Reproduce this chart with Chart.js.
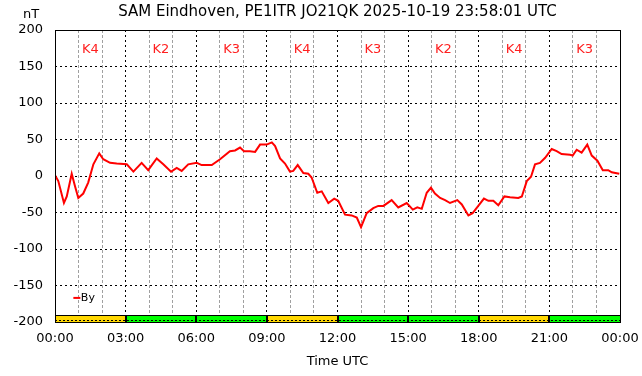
<!DOCTYPE html>
<html>
<head>
<meta charset="utf-8">
<script src="https://cdn.jsdelivr.net/npm/chart.js@4/dist/chart.umd.min.js"></script>
<style>
  html, body { margin: 0; padding: 0; background: #fff; }
  #wrap { width: 642px; height: 376px; }
</style>
</head>
<body>
<div id="wrap"><canvas id="canvas-by"></canvas></div>
<script>
// time in hours UTC, By in nT
const hours = [0, 0.14, 0.38, 0.50, 0.71, 0.85, 0.99, 1.20, 1.41, 1.63, 1.88, 2.05, 2.34, 2.62,
  3.05, 3.33, 3.68, 3.96, 4.32, 4.60, 4.93, 5.17, 5.38, 5.66, 6.02, 6.23, 6.66, 7.01, 7.43,
  7.65, 7.86, 8.03, 8.28, 8.50, 8.71, 8.99, 9.21, 9.35, 9.56, 9.77, 9.98, 10.12, 10.31, 10.55,
  10.76, 10.90, 11.14, 11.33, 11.61, 11.86, 12.03, 12.32, 12.60, 12.82, 13.00, 13.24, 13.52,
  13.73, 13.95, 14.30, 14.58, 14.94, 15.20, 15.39, 15.58, 15.79, 15.97, 16.14, 16.36, 16.57,
  16.78, 17.09, 17.28, 17.56, 17.74, 17.98, 18.22, 18.41, 18.62, 18.83, 19.09, 19.33, 19.68,
  19.83, 20.04, 20.22, 20.39, 20.60, 20.82, 21.10, 21.31, 21.52, 21.88, 21.99, 22.16, 22.37,
  22.61, 22.80, 23.04, 23.27, 23.50, 23.65, 23.97];
const byValues = [1, -7, -37, -28, 3, -14, -30, -24, -9, 16, 31, 23, 18, 17,
  16, 6, 18, 8, 24, 16, 6, 11, 7, 16, 18, 15, 15, 23, 34,
  35, 39, 34, 34, 33, 43, 43, 46, 41, 24, 17, 6, 7, 15, 4,
  3, -2, -23, -21, -37, -31, -34, -53, -54, -57, -70, -51, -44,
  -41, -41, -33, -43, -37, -46, -43, -45, -23, -16, -24, -30, -33,
  -37, -33, -39, -54, -51, -41, -31, -34, -34, -40, -28, -29, -30,
  -28, -7, -1, 16, 18, 25, 37, 34, 30, 29, 28, 36, 32,
  43, 28, 21, 8, 8, 5, 3];

// K index per 3 hour block
const kIndex = [4, 2, 3, 4, 3, 2, 4, 3];
const kColor = k => (k >= 4 ? '#ffd700' : '#00ff00');

const yTicks = [-200, -150, -100, -50, 0, 50, 100, 150, 200];
const title = 'SAM Eindhoven, PE1ITR JO21QK 2025-10-19 23:58:01 UTC';

const font = '"DejaVu Sans", sans-serif';

const decor = {
  id: 'decor',
  afterDatasetsDraw(chart) {
    const {ctx, chartArea: a, scales: {x, y}} = chart;
    ctx.save();
    // K bands at the bottom
    const yTop = Math.round(y.getPixelForValue(-190)) + 0.5;
    const yBot = y.getPixelForValue(-200);
    kIndex.forEach((k, i) => {
      const x0 = x.getPixelForValue(i * 3);
      const x1 = x.getPixelForValue(i * 3 + 3);
      ctx.fillStyle = kColor(k);
      ctx.fillRect(x0, yTop, x1 - x0, yBot - yTop);
    });
    ctx.strokeStyle = '#000';
    ctx.lineWidth = 1;
    ctx.beginPath();
    ctx.moveTo(a.left, yTop);
    ctx.lineTo(a.right, yTop);
    ctx.stroke();
    ctx.lineWidth = 2;
    for (let i = 1; i < kIndex.length; i++) {
      const xp = Math.round(x.getPixelForValue(i * 3));
      ctx.beginPath();
      ctx.moveTo(xp, yTop);
      ctx.lineTo(xp, yBot);
      ctx.stroke();
    }
    ctx.lineWidth = 1;
    ctx.setLineDash([2, 2]);
    ctx.beginPath();
    ctx.moveTo(a.left, Math.round(yBot) - 1.5);
    ctx.lineTo(a.right, Math.round(yBot) - 1.5);
    ctx.stroke();
    ctx.setLineDash([]);

    // frame
    ctx.strokeRect(Math.round(a.left) + 0.5, Math.round(a.top) + 0.5,
      Math.round(a.right - a.left), Math.round(a.bottom - a.top));

    // K labels
    ctx.fillStyle = '#ff2020';
    ctx.font = '13px ' + font;
    ctx.textAlign = 'center';
    ctx.textBaseline = 'middle';
    kIndex.forEach((k, i) => {
      ctx.fillText('K' + k, x.getPixelForValue(i * 3 + 1.5), y.getPixelForValue(173));
    });

    // legend
    const ly = y.getPixelForValue(-167);
    const lx = x.getPixelForValue(0.78);
    ctx.strokeStyle = '#ff0000';
    ctx.lineWidth = 2;
    ctx.beginPath();
    ctx.moveTo(lx, ly);
    ctx.lineTo(lx + 7, ly);
    ctx.stroke();
    ctx.fillStyle = '#000';
    ctx.font = '11px ' + font;
    ctx.textAlign = 'left';
    ctx.fillText(chart.data.datasets[0].label, lx + 7.5, ly);
    ctx.restore();
  },
  afterDraw(chart) {
    const {ctx, chartArea: a} = chart;
    ctx.save();
    ctx.fillStyle = '#000';
    ctx.textBaseline = 'middle';
    ctx.textAlign = 'center';
    ctx.font = '15px ' + font;
    ctx.fillText(title, (a.left + a.right) / 2, 12);
    ctx.font = '13px ' + font;
    ctx.fillText('nT', 31, 15);
    ctx.fillText('Time UTC', (a.left + a.right) / 2, 362);
    ctx.restore();
  }
};

const canvas = document.getElementById('canvas-by');
const ctx = canvas.getContext('2d');
new Chart(ctx, {
  type: 'line',
  data: {
    datasets: [{
      label: 'By',
      data: hours.map((h, i) => ({x: h, y: byValues[i]})),
      borderColor: '#ff0000',
      borderWidth: 2,
      pointRadius: 0,
      tension: 0,
      fill: false
    }]
  },
  options: {
    responsive: true,
    maintainAspectRatio: false,
    animation: false,
    layout: { padding: { top: 30, right: 22, bottom: 0, left: 0 } },
    plugins: {
      legend: { display: false },
      title: { display: false },
      tooltip: { enabled: false }
    },
    scales: {
      x: {
        type: 'linear',
        min: 0,
        max: 24,
        afterFit: s => { s.height = 54; s.paddingLeft = 0; s.paddingRight = 0; },
        afterBuildTicks: s => {
          s.ticks = [];
          for (let h = 0; h <= 24; h++) s.ticks.push({value: h});
        },
        ticks: {
          autoSkip: false,
          maxRotation: 0,
          padding: 9,
          color: '#000',
          font: { family: font, size: 13 },
          callback: v => (v % 3 === 0 ? String(v % 24).padStart(2, '0') + ':00' : '')
        },
        grid: {
          drawTicks: false,
          color: c => (c.tick && c.tick.value % 3 === 0 ? '#000' : '#a0a0a0'),
          lineWidth: 1
        },
        border: {
          display: false,
          dash: c => (c.tick && c.tick.value % 3 === 0 ? [2, 3] : [3, 2])
        }
      },
      y: {
        min: -200,
        max: 200,
        afterFit: s => { s.width = 55; },
        afterBuildTicks: s => { s.ticks = yTicks.map(v => ({value: v})); },
        ticks: {
          padding: 12,
          color: '#000',
          font: { family: font, size: 13 }
        },
        grid: {
          drawTicks: false,
          color: '#000',
          lineWidth: 1
        },
        border: { display: false, dash: [2, 3] }
      }
    }
  },
  plugins: [decor]
});
</script>
</body>
</html>
